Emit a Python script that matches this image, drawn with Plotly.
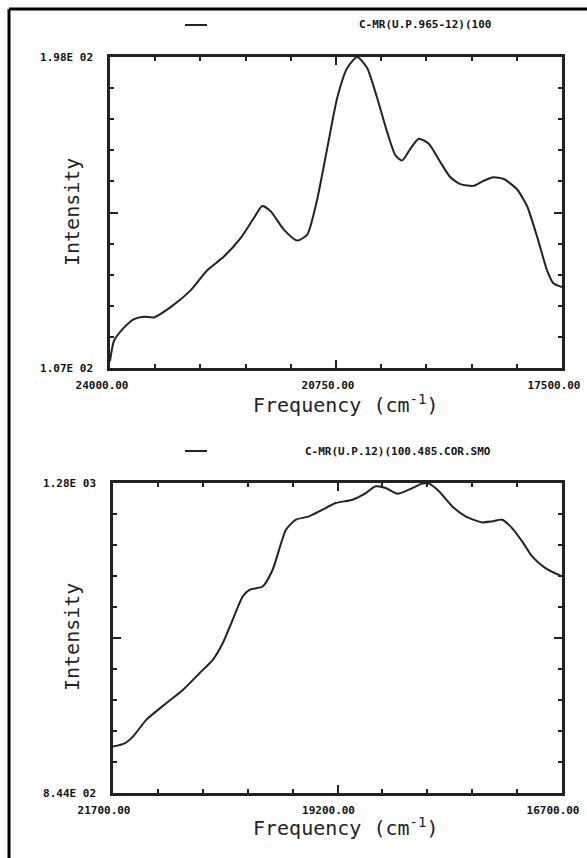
import plotly.graph_objects as go

W, H = 587, 858

# ---------------- data: top spectrum ----------------
freq_top = [24000, 23943, 23799, 23655, 23511, 23368, 23128, 22841, 22601, 22362,
            22122, 21931, 21811, 21691, 21500, 21308, 21164, 21021, 20877, 20733,
            20589, 20446, 20302, 20158, 20015, 19895, 19799, 19679, 19560, 19416,
            19248, 19105, 18961, 18769, 18626, 18482, 18338, 18147, 18003, 17859,
            17715, 17620, 17500]
int_top = [109.0, 114.9, 118.8, 121.3, 122.0, 121.8, 124.8, 129.7, 135.6, 139.6,
           145.0, 150.9, 154.4, 152.9, 147.5, 144.3, 146.0, 156.3, 171.2, 186.0,
           194.8, 198.0, 194.8, 186.0, 176.1, 169.2, 167.7, 171.2, 174.1, 172.6,
           167.2, 162.8, 160.8, 160.3, 161.8, 162.8, 162.3, 159.3, 154.4, 145.5,
           135.6, 131.7, 130.7]

# ---------------- data: bottom spectrum ----------------
freq_bot = [21700, 21570, 21478, 21330, 21107, 20922, 20737, 20589, 20478, 20367,
            20256, 20181, 20033, 19922, 19774, 19663, 19515, 19367, 19219, 19033,
            18885, 18774, 18663, 18533, 18404, 18256, 18181, 18070, 17922, 17774,
            17589, 17478, 17367, 17256, 17144, 17033, 16885, 16700]
int_bot = [909.3, 913.9, 923.3, 946.8, 970.3, 989.0, 1012.5, 1031.3, 1054.7, 1087.6,
           1120.4, 1129.8, 1134.5, 1158.0, 1214.3, 1228.4, 1233.1, 1242.5, 1251.8, 1256.5,
           1265.9, 1275.3, 1273.0, 1265.0, 1270.6, 1279.1, 1279.1, 1268.3, 1247.1, 1233.1,
           1224.6, 1226.0, 1228.4, 1216.6, 1197.9, 1176.8, 1160.3, 1148.6]

# axis ranges and tick labels
x_top_range = [24000, 17500]
x_top_ticks = [24000, 20750, 17500]
x_top_text = ["24000.00", "20750.00", "17500.00"]
y_top_range = [107, 198]
y_top_ticks = [107, 152.5, 198]
y_top_text = ["1.07E 02", "", "1.98E 02"]

x_bot_range = [21700, 16700]
x_bot_ticks = [21700, 19200, 16700]
x_bot_text = ["21700.00", "19200.00", "16700.00"]
y_bot_range = [844, 1280]
y_bot_ticks = [844, 1062, 1280]
y_bot_text = ["8.44E 02", "", "1.28E 03"]

legend_top = "C-MR(U.P.965-12)(100"
legend_bot = "C-MR(U.P.12)(100.485.COR.SMO"
x_title = "Frequency (cm<sup>-1</sup>)"
y_title = "Intensity"

INK = "#222222"
tick_font = dict(family="DejaVu Sans Mono", size=11, color="#111", weight="bold")
title_font = dict(family="DejaVu Sans Mono", size=20, color="#222")


def px_x(p):
    return p / W


def px_y(p):
    return 1 - p / H


fig = go.Figure()
fig.add_trace(go.Scatter(x=freq_top, y=int_top, mode="lines", line=dict(color=INK, width=2, shape="spline", smoothing=0.6),
                         xaxis="x", yaxis="y", showlegend=False, hoverinfo="skip"))
fig.add_trace(go.Scatter(x=freq_bot, y=int_bot, mode="lines", line=dict(color=INK, width=2, shape="spline", smoothing=0.6),
                         xaxis="x2", yaxis="y2", showlegend=False, hoverinfo="skip"))


def xaxis(domain, rng, ticks, text, anchor, dtick, shift):
    return dict(domain=domain, range=rng, anchor=anchor, tickvals=ticks, ticktext=text,
                ticks="inside", ticklen=8, tickwidth=1.5, tickcolor=INK, automargin=False,
                showline=True, linewidth=2.5, linecolor=INK, mirror="ticks",
                showgrid=False, zeroline=False, tickfont=tick_font, ticklabelstandoff=5,
                ticklabelshift=shift, ticklabeloverflow="allow",
                minor=dict(dtick=dtick, tick0=rng[0], ticks="inside", ticklen=4, tickcolor=INK, showgrid=False))


def yaxis(domain, rng, ticks, text, anchor, dtick):
    return dict(domain=domain, range=rng, anchor=anchor, tickvals=ticks, ticktext=text,
                ticks="inside", ticklen=8, tickwidth=1.5, tickcolor=INK, automargin=False,
                showline=True, linewidth=2.5, linecolor=INK, mirror="ticks",
                showgrid=False, zeroline=False, tickfont=tick_font, ticklabelstandoff=12,
                minor=dict(dtick=dtick, tick0=rng[0], ticks="inside", ticklen=4, tickcolor=INK, showgrid=False))


fig.update_layout(
    width=W, height=H,
    margin=dict(l=0, r=0, t=0, b=0),
    paper_bgcolor="white", plot_bgcolor="white",
    xaxis=xaxis([px_x(110), px_x(562)], x_top_range, x_top_ticks, x_top_text, "y", 650, 8),
    yaxis=yaxis([px_y(368), px_y(57)], y_top_range, y_top_ticks, y_top_text, "x", 9.1),
    xaxis2=xaxis([px_x(113), px_x(562)], x_bot_range, x_bot_ticks, x_bot_text, "y2", 500, 9),
    yaxis2=yaxis([px_y(793), px_y(483)], y_bot_range, y_bot_ticks, y_bot_text, "x2", 43.6),
)

# outer frame (left and top edges)
fig.add_shape(type="line", xref="paper", yref="paper", x0=px_x(9), x1=1, y0=px_y(9), y1=px_y(9),
              line=dict(color="black", width=3))
fig.add_shape(type="line", xref="paper", yref="paper", x0=px_x(9), x1=px_x(9), y0=0, y1=px_y(9),
              line=dict(color="black", width=3))

# legend samples
for ly, txt, tx in [(25, legend_top, 357), (451, legend_bot, 303)]:
    fig.add_shape(type="line", xref="paper", yref="paper", x0=px_x(185), x1=px_x(207), y0=px_y(ly), y1=px_y(ly),
                  line=dict(color=INK, width=2))
    fig.add_annotation(xref="paper", yref="paper", x=px_x(tx), y=px_y(ly), xanchor="left", yanchor="middle",
                       text=txt, showarrow=False, font=dict(family="DejaVu Sans Mono", size=11, color="#111", weight="bold"))

# axis titles
for ty in [404, 827]:
    fig.add_annotation(xref="paper", yref="paper", x=px_x(345), y=px_y(ty), xanchor="center", yanchor="middle",
                       text=x_title, showarrow=False, font=title_font)
for ty in [212, 637]:
    fig.add_annotation(xref="paper", yref="paper", x=px_x(72), y=px_y(ty), xanchor="center", yanchor="middle",
                       text=y_title, textangle=-90, showarrow=False, font=title_font)

fig.write_html("out.html", config={"displayModeBar": False},
               post_script="document.body.style.margin='0';document.body.style.overflow='hidden';")
